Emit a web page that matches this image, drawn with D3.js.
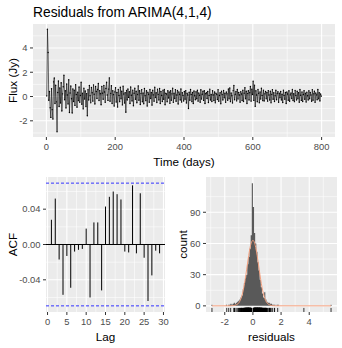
<!DOCTYPE html>
<html>
<head>
<meta charset="utf-8">
<script src="https://cdn.jsdelivr.net/npm/d3@7"></script>
<style>
body { margin: 0; background: #fff; }
text { font-family: "Liberation Sans", Arial, sans-serif; }
</style>
</head>
<body>
<script>
// residuals, one value every 2 days (day 1, 3, 5, ... 799)
const residuals = [
  0.05, 5.55, 3.62, -0.31, 0.42, -0.93, -1.72, 0.64, -1.08, -1.86, 1.21, 1.52, -0.57, 0.93, -0.44, -2.91, 0.33, 1.28, -0.82, 0.71,
  -0.53, 1.14, -1.19, 0.22, 0.81, 1.76, -0.27, 0.48, -0.94, 1.03, 0.12, -0.61, 1.38, -1.31, 0.29, 0.87, -0.18, -1.36, 0.63, -0.41,
  0.52, -0.73, 0.98, 0.17, -0.88, 0.36, -0.34, 0.79, -0.47, 0.08, 1.17, -0.64, 0.27, -1.02, 0.69, -0.21, 0.46, -0.83, 0.24, -1.58,
  0.57, -0.29, 0.91, 0.06, -0.52, 0.74, 0.31, -0.38, 0.96, 0.19, -0.62, 0.83, 0.41, -0.16, 0.58, 1.07, -0.33, 0.49, 0.23, -0.68,
  0.84, 0.28, -0.23, 0.92, 0.37, -0.48, 0.66, 1.18, 0.13, -0.32, 0.61, 1.54, -0.39, 0.26, 0.89, -0.57, 0.47, 0.16, -0.79, 0.38,
  0.72, -0.46, 0.34, -0.87, 0.59, 0.09, -0.42, 0.77, -0.19, 0.43, -0.69, 0.86, 0.21, -0.54, 0.32, -1.29, 0.51, -0.28, 0.62, -0.07,
  0.39, -0.58, 0.78, 0.11, -0.37, 0.53, -0.76, 0.27, 0.68, -0.22, 0.44, -0.51, 0.18, 0.88, -0.31, 0.47, -0.66, 0.24, 0.57, -0.43,
  0.29, -0.59, 0.67, 0.07, -0.34, 0.48, -0.79, 0.36, 0.19, -0.47, 0.58, -0.17, 0.33, -0.71, 0.52, 0.14, -0.39, 0.76, -0.09, 0.31,
  -0.49, 0.61, 0.18, -0.28, 0.66, -0.57, 0.42, 0.09, -0.41, 0.53, -0.23, 0.59, -0.68, 0.27, 0.21, -0.43, 0.48, -0.12, 0.37, -0.56,
  0.47, -0.31, 0.22, 0.69, -0.48, 0.28, -0.17, 0.57, -0.39, 0.13, 0.51, -0.62, 0.38, 0.19, -0.29, 0.63, -0.46, 0.32, 0.08, -0.37,
  0.41, -0.22, 0.49, -0.53, 0.27, 0.12, -0.98, 0.36, -0.31, 0.58, 0.17, -0.42, 0.33, -0.57, 0.46, 0.07, -0.27, 0.39, -0.18, 0.52,
  -0.38, 0.29, 0.11, -0.47, 0.56, -0.21, 0.19, 0.43, -0.32, 0.48, -0.58, 0.23, 0.31, -0.16, 0.42, -0.49, 0.08, 0.61, -0.28, 0.17,
  -0.41, 0.47, 0.13, -0.33, 0.38, -0.52, 0.27, 0.18, -0.24, 0.57, -0.39, 0.09, 0.32, -0.59, 0.44, 0.16, -0.29, 0.51, -0.11, 0.28,
  -0.48, 0.37, 0.22, -0.31, 0.62, -0.19, 0.71, -0.42, 0.29, 0.06, -0.53, 0.49, 0.92, -0.27, 0.18, 0.41, -0.36, 0.58, -0.21, 0.34,
  0.12, -0.47, 0.39, 0.21, -0.33, 0.52, -0.41, 0.28, 0.73, -0.18, 0.43, -0.57, 0.24, 0.48, -0.29, 0.31, 0.82, -0.38, 0.61, 0.17,
  1.27, -0.32, 0.94, -0.81, 0.47, 0.13, -0.43, 0.59, 0.26, -0.51, 0.38, -0.21, 0.68, 0.09, -0.34, 0.53, -0.37, 0.22, 0.41, -0.19,
  0.33, -0.38, 0.49, 0.12, -0.29, 0.43, -0.52, 0.18, 0.57, -0.23, 0.31, -0.41, 0.07, 0.52, -0.27, 0.24, 0.39, -0.47, 0.28, -0.11,
  0.42, -0.28, 0.19, -0.49, 0.53, 0.08, -0.22, 0.34, -0.58, 0.37, 0.21, -0.31, 0.48, -0.39, 0.14, 0.29, -0.17, 0.59, -0.33, 0.23,
  -0.42, 0.51, 0.09, -0.28, 0.44, -0.19, 0.32, -0.47, 0.58, 0.11, -0.32, 0.38, -0.41, 0.17, 0.49, -0.23, 0.27, -0.46, 0.36, 0.06,
  -0.29, 0.47, -0.18, 0.34, 0.12, -0.39, 0.57, -0.31, 0.22, 0.43, -0.48, 0.29, 0.14, -0.26, 0.58, -0.19, 0.32, -0.37, 0.21, 0.03
];
const days = residuals.map((d, i) => 1 + 2 * i);

// ACF at lags 1..29
const lags = d3.range(1, 30);
const acfValues = [
  0.028, 0.052, -0.017, -0.057, -0.013, -0.049, -0.008, -0.006, -0.005, 0.018,
  -0.060, 0.025, 0.025, -0.052, 0.043, 0.054, 0.060, 0.057, 0.051, -0.008,
  -0.009, 0.067, -0.010, 0.058, -0.015, -0.064, -0.035, -0.007, -0.010
];
const acfCI = 0.0695;

// histogram: bins of width 0.08 from -2.0 to 2.0, plus the two outliers
const binWidth = 0.08;
const binLo = d3.range(50).map(i => -2 + i * binWidth);
const binCounts = [
  0, 1, 0, 1, 1, 2, 1, 2, 3, 2,
  3, 4, 5, 6, 8, 10, 16, 22, 27, 30,
  40, 47, 55, 68, 118, 95, 70, 60, 52, 42,
  34, 25, 18, 12, 8, 13, 6, 4, 3, 3,
  2, 2, 1, 1, 1, 0, 1, 1, 0, 0
];
const outlierLo = [-2.95, 5.51];
const outlierCounts = [1, 1];

// normal curve
const normX = [-2.91, -1.6, -1.4, -1.2, -1.0, -0.9, -0.8, -0.7, -0.6, -0.5, -0.4, -0.3, -0.2, -0.1, 0.0, 0.1, 0.2, 0.3, 0.4, 0.5, 0.6, 0.7, 0.8, 0.9, 1.0, 1.2, 1.4, 1.6, 5.55];
const normY = [0, 0.05, 0.2, 0.9, 2.9, 5.3, 9.0, 14.3, 21.3, 29.9, 39.3, 48.5, 56.2, 61.2, 63, 61.2, 56.2, 48.5, 39.3, 29.9, 21.3, 14.3, 9.0, 5.3, 2.9, 0.9, 0.2, 0.05, 0];

const width = 342, height = 348;
const svg = d3.select("body").append("svg")
  .attr("width", width).attr("height", height);

const expand = e => { const d = (e[1] - e[0]) * 0.05; return [e[0] - d, e[1] + d]; };

function panel(box, xs, ys, xMajor, xMinor, yMajor, yMinor, xFmt, yFmt, xTitle, yTitle, yTitleX) {
  const g = svg.append("g");
  g.append("rect").attr("x", box.x0).attr("y", box.y0)
    .attr("width", box.x1 - box.x0).attr("height", box.y1 - box.y0)
    .attr("fill", "#ebebeb");
  const grid = (vals, w, vert) => g.selectAll(null).data(vals).enter().append("line")
    .attr("x1", d => vert ? xs(d) : box.x0).attr("x2", d => vert ? xs(d) : box.x1)
    .attr("y1", d => vert ? box.y0 : ys(d)).attr("y2", d => vert ? box.y1 : ys(d))
    .attr("stroke", "#fff").attr("stroke-width", w);
  grid(xMinor, 0.55, true); grid(yMinor, 0.55, false);
  grid(xMajor, 1.1, true); grid(yMajor, 1.1, false);

  // ticks
  g.selectAll(null).data(xMajor).enter().append("line")
    .attr("x1", d => xs(d)).attr("x2", d => xs(d))
    .attr("y1", box.y1).attr("y2", box.y1 + 3)
    .attr("stroke", "#333").attr("stroke-width", 1);
  g.selectAll(null).data(yMajor).enter().append("line")
    .attr("x1", box.x0 - 3).attr("x2", box.x0)
    .attr("y1", d => ys(d)).attr("y2", d => ys(d))
    .attr("stroke", "#333").attr("stroke-width", 1);
  g.selectAll(null).data(xMajor).enter().append("text")
    .attr("x", d => xs(d)).attr("y", box.y1 + 13)
    .attr("text-anchor", "middle").attr("font-size", 9.4).attr("fill", "#4d4d4d")
    .text(xFmt);
  g.selectAll(null).data(yMajor).enter().append("text")
    .attr("x", box.x0 - 5.5).attr("y", d => ys(d)).attr("dy", "0.35em")
    .attr("text-anchor", "end").attr("font-size", 9.4).attr("fill", "#4d4d4d")
    .text(yFmt);
  g.append("text").attr("x", (box.x0 + box.x1) / 2).attr("y", box.y1 + 29)
    .attr("text-anchor", "middle").attr("font-size", 11.7).attr("fill", "#000")
    .text(xTitle);
  g.append("text")
    .attr("transform", `translate(${yTitleX},${(box.y0 + box.y1) / 2}) rotate(-90)`)
    .attr("dy", "0.35em")
    .attr("text-anchor", "middle").attr("font-size", 11.7).attr("fill", "#000")
    .text(yTitle);
  return g;
}

// ---- top: residual series
const topBox = {x0: 33, x1: 335, y0: 24, y1: 137};
const xT = d3.scaleLinear().domain(expand(d3.extent(days))).range([topBox.x0, topBox.x1]);
const yT = d3.scaleLinear().domain(expand(d3.extent(residuals))).range([topBox.y1, topBox.y0]);
const gT = panel(topBox, xT, yT, [0, 200, 400, 600, 800], [100, 300, 500, 700],
  [-2, 0, 2, 4], [-3, -1, 1, 3, 5], d => d, d => d, "Time (days)", "Flux (Jy)", 13);
gT.append("path").datum(residuals)
  .attr("d", d3.line().x((d, i) => xT(days[i])).y(d => yT(d)))
  .attr("fill", "none").attr("stroke", "#000").attr("stroke-width", 0.6);
gT.selectAll(null).data(residuals).enter().append("circle")
  .attr("cx", (d, i) => xT(days[i])).attr("cy", d => yT(d)).attr("r", 0.7)
  .attr("fill", "#000");
svg.append("text").attr("x", 33).attr("y", 17)
  .attr("font-size", 13.8).attr("fill", "#000")
  .text("Residuals from ARIMA(4,1,4)");

// ---- bottom left: ACF
const acfBox = {x0: 46, x1: 165, y0: 177, y1: 312};
const xA = d3.scaleLinear().domain(expand(d3.extent(lags))).range([acfBox.x0, acfBox.x1]);
const yA = d3.scaleLinear()
  .domain(expand([Math.min(-acfCI, d3.min(acfValues)), Math.max(acfCI, d3.max(acfValues))]))
  .range([acfBox.y1, acfBox.y0]);
const gA = panel(acfBox, xA, yA, [0, 5, 10, 15, 20, 25, 30], [2.5, 7.5, 12.5, 17.5, 22.5, 27.5],
  [-0.04, 0, 0.04], [-0.06, -0.02, 0.02, 0.06], d => d, d => d.toFixed(2), "Lag", "ACF", 13);
gA.append("line").attr("x1", acfBox.x0).attr("x2", acfBox.x1)
  .attr("y1", yA(0)).attr("y2", yA(0)).attr("stroke", "#000").attr("stroke-width", 1);
gA.selectAll(null).data(acfValues).enter().append("line")
  .attr("x1", (d, i) => xA(lags[i])).attr("x2", (d, i) => xA(lags[i]))
  .attr("y1", yA(0)).attr("y2", d => yA(d))
  .attr("stroke", "#000").attr("stroke-width", 1);
gA.selectAll(null).data([acfCI, -acfCI]).enter().append("line")
  .attr("x1", acfBox.x0).attr("x2", acfBox.x1)
  .attr("y1", d => yA(d)).attr("y2", d => yA(d))
  .attr("stroke", "#3333ff").attr("stroke-width", 1).attr("stroke-dasharray", "3,2");

// ---- bottom right: histogram
const histBox = {x0: 206, x1: 337, y0: 177, y1: 312};
const xH = d3.scaleLinear().domain(expand(d3.extent(residuals))).range([histBox.x0, histBox.x1]);
const yH = d3.scaleLinear().domain(expand([0, d3.max(binCounts)])).range([histBox.y1, histBox.y0]);
const gH = panel(histBox, xH, yH, [-2, 0, 2, 4], [-3, -1, 1, 3, 5],
  [0, 30, 60, 90], [15, 45, 75, 105], d => d, d => d, "residuals", "count", 183);
const bins = binLo.map((lo, i) => ({lo, n: binCounts[i]}))
  .concat(outlierLo.map((lo, i) => ({lo, n: outlierCounts[i]})));
// bars as one filled area so neighbouring bins leave no seams
const barArea = d3.area()
  .x(d => xH(d[0])).y0(yH(0)).y1(d => yH(d[1]))
  .curve(d3.curveStepAfter);
const mainSteps = binLo.map((lo, i) => [lo, binCounts[i]]).concat([[binLo[binLo.length - 1] + binWidth, 0]]);
gH.append("path").datum(mainSteps).attr("d", barArea).attr("fill", "#595959");
gH.selectAll(null).data(bins.slice(binLo.length)).enter().append("rect")
  .attr("x", d => xH(d.lo)).attr("width", xH(binWidth) - xH(0))
  .attr("y", d => yH(d.n)).attr("height", d => yH(0) - yH(d.n))
  .attr("fill", "#595959");
gH.append("path").datum(normX)
  .attr("d", d3.line().x(d => xH(d)).y((d, i) => yH(normY[i])).curve(d3.curveMonotoneX))
  .attr("fill", "none").attr("stroke", "#f4a07e").attr("stroke-width", 1);
const rugLen = (histBox.y1 - histBox.y0) * 0.03;
gH.selectAll(null).data(residuals).enter().append("line")
  .attr("x1", d => xH(d)).attr("x2", d => xH(d))
  .attr("y1", histBox.y1).attr("y2", histBox.y1 - rugLen)
  .attr("stroke", "#000").attr("stroke-width", 0.8);
</script>
</body>
</html>
